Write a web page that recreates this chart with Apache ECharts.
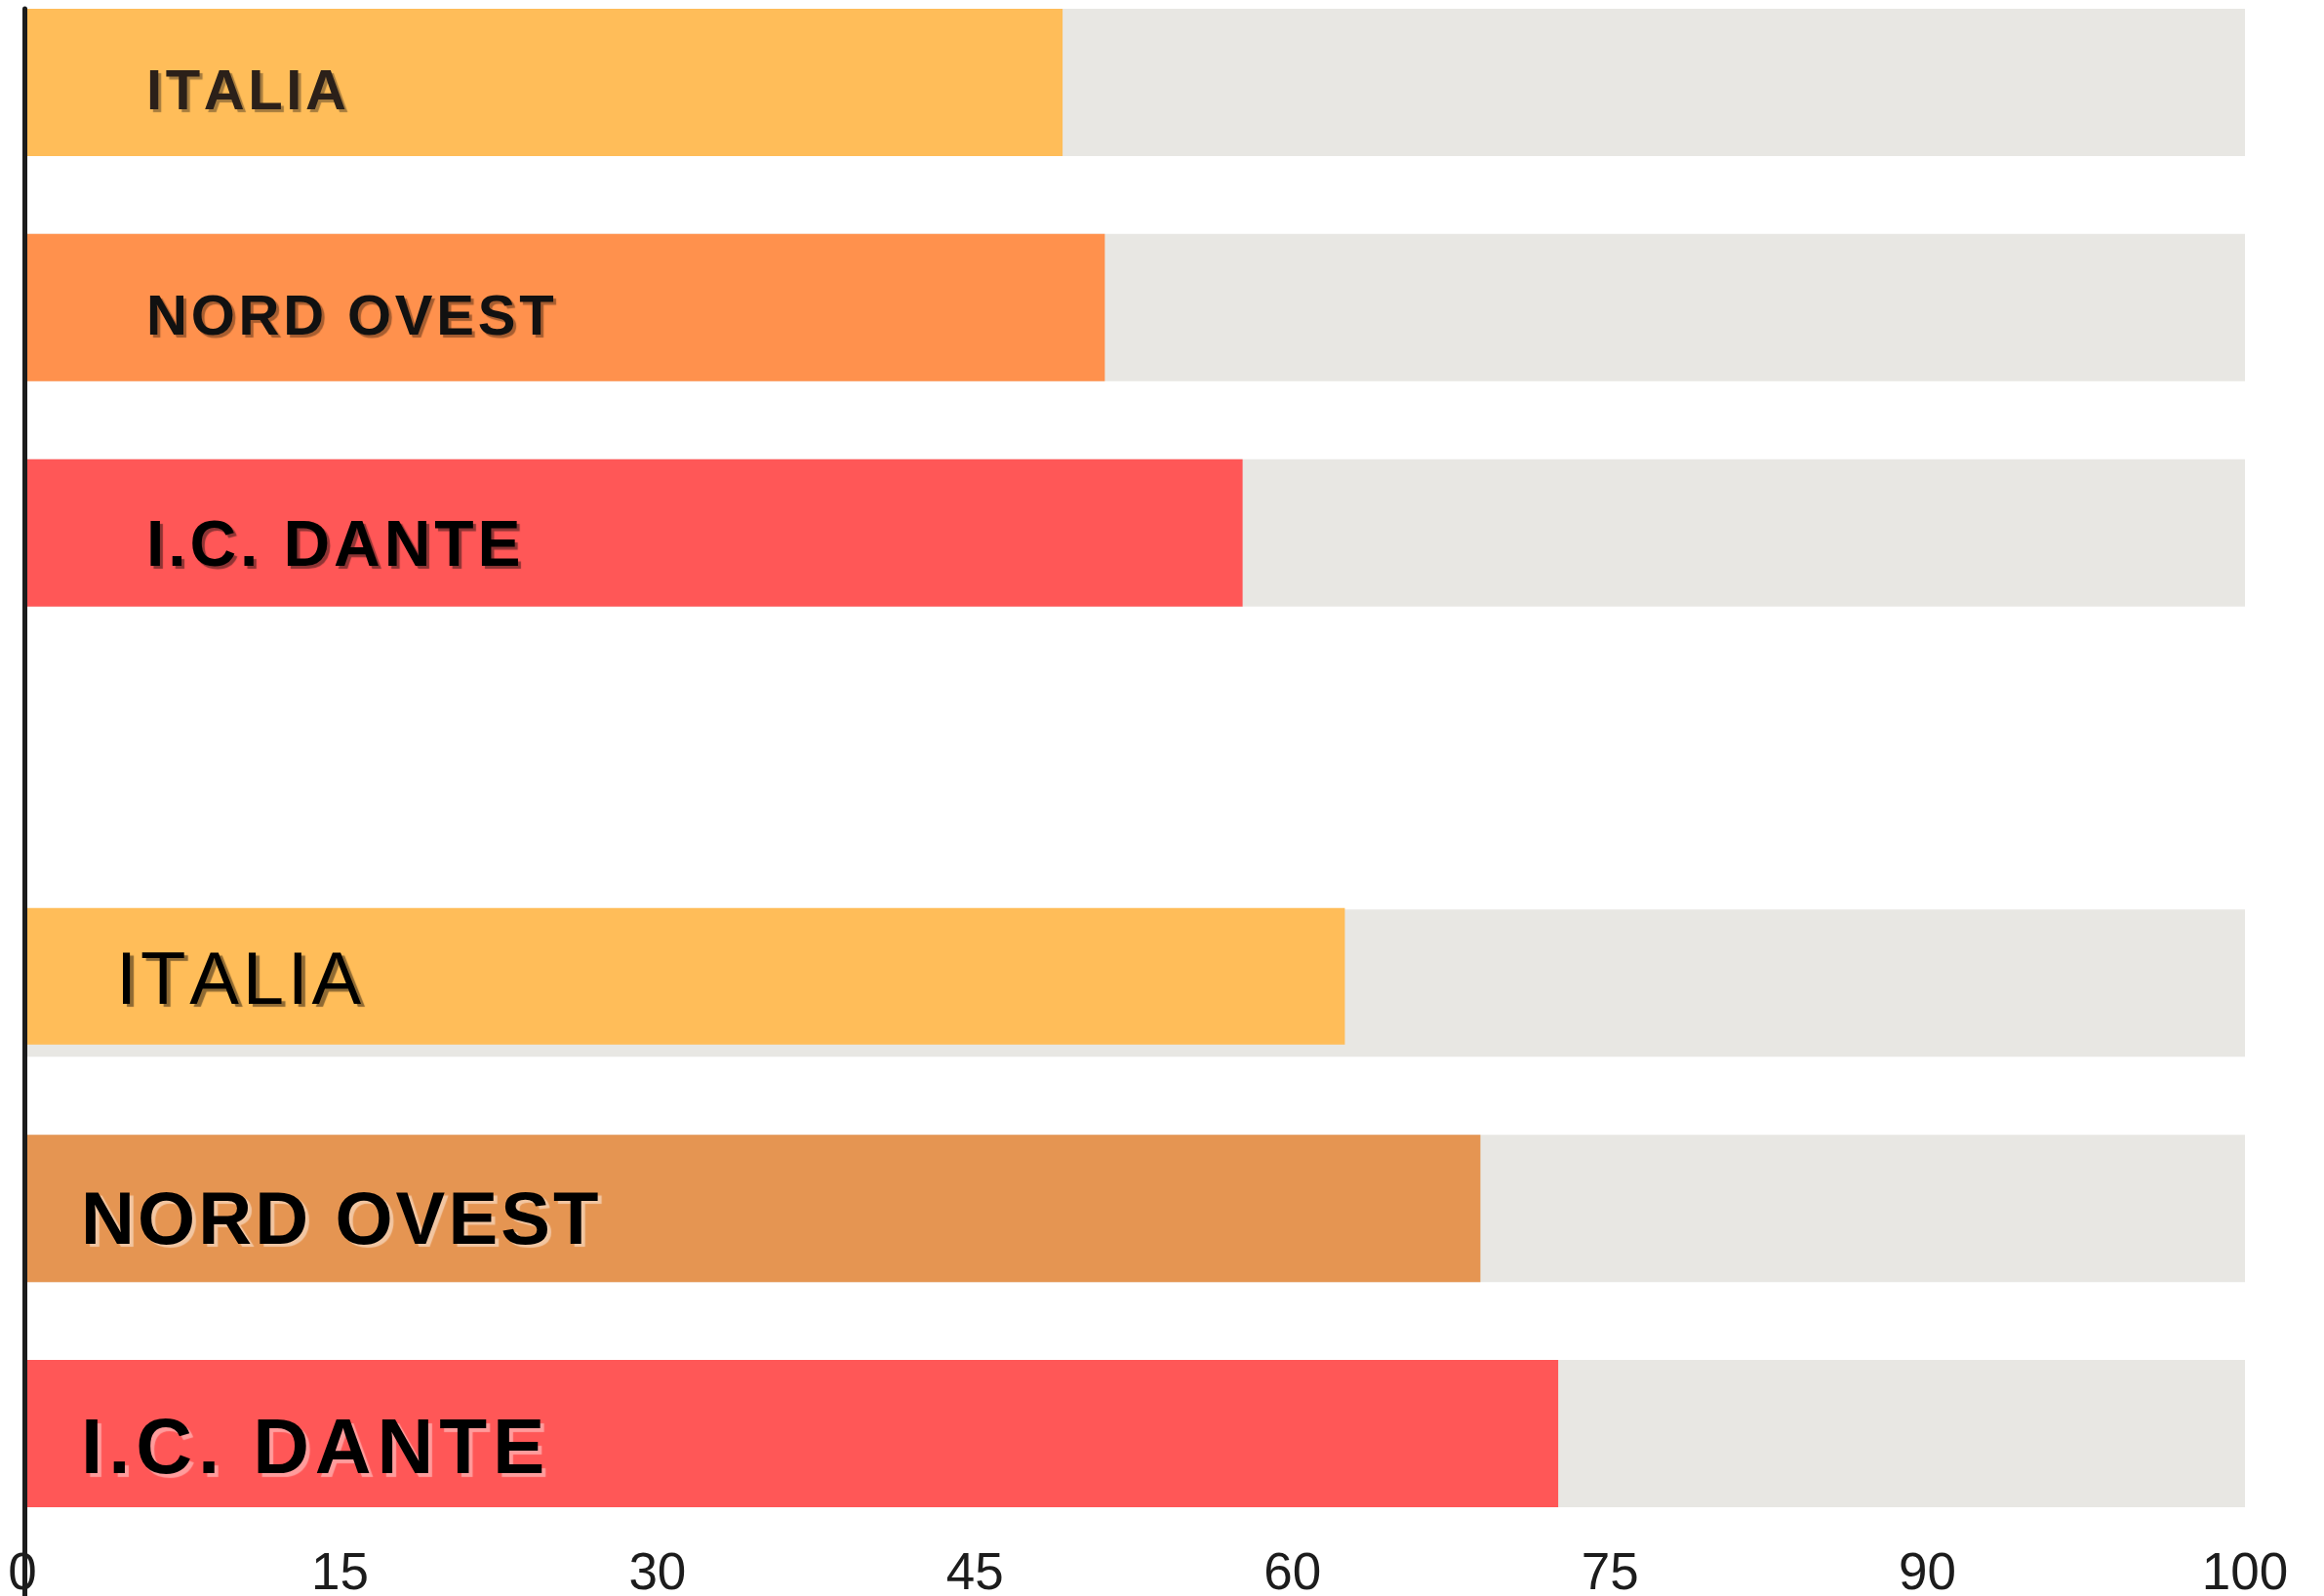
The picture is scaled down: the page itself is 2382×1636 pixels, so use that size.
<!DOCTYPE html>
<html>
<head>
<meta charset="utf-8">
<script src="https://cdn.jsdelivr.net/npm/echarts@6/dist/echarts.min.js"></script>
<style>
  html, body { margin: 0; padding: 0; background: #ffffff; }
  #chart { width: 2382px; height: 1636px; }
</style>
</head>
<body>
<div id="chart"></div>
<script>
// slots from top to bottom, the empty slot separates the two groups
var categories = ['ITALIA', 'NORD OVEST', 'I.C. DANTE', '', 'ITALIA', 'NORD OVEST', 'I.C. DANTE'];
var values = [46.8, 48.7, 54.9, null, 59.5, 65.6, 69.1];
var trackValues = [100, 100, 100, null, 100, 100, 100];
// tick labels sit at equal steps along the axis
var xTicks = ['0', '15', '30', '45', '60', '75', '90', '100'];
var shortBar = 4; // the lower ITALIA bar is drawn a bit thinner

var barColors = ['#ffbd59', '#ff914d', '#ff5757', null, '#ffbd59', '#e59552', '#ff5757'];
var labelStyles = [
  { size: 58, weight: 'bold', color: '#2b2019', shadow: '#a67c3e', ls: 3.6, dist: 127, dy: 12, sx: 3, sy: 3 },
  { size: 58, weight: 'bold', color: '#111111', shadow: '#a65d30', ls: 3.8, dist: 127, dy: 12, sx: 3, sy: 3 },
  { size: 66, weight: 'bold', color: '#000000', shadow: '#8e3434', ls: 3.9, dist: 127, dy: 16, sx: 3, sy: 3 },
  null,
  { size: 76, weight: 'normal', color: '#000000', shadow: '#8f6a33', ls: 3.8, dist: 96, dy: 7, sx: 4, sy: 3 },
  { size: 76, weight: 'bold', color: '#000000', shadow: '#f2c6a2', ls: 3.1, dist: 60, dy: 15, sx: 4, sy: 3 },
  { size: 80, weight: 'bold', color: '#000000', shadow: '#ff9c9c', ls: 5.9, dist: 60, dy: 18, sx: 4, sy: 4 }
];

var slotIds = categories.map(function (c, i) { return String(i); });

// one rich token per character, so the letters can be spread out
function spaced(text) {
  return text.split('').map(function (ch) { return '{c|' + ch + '}'; }).join('');
}

function barItem(i) {
  var st = labelStyles[i];
  var font = {
    color: st.color,
    fontFamily: 'Liberation Sans',
    fontSize: st.size,
    fontWeight: st.weight,
    textShadowColor: st.shadow,
    textShadowOffsetX: st.sx,
    textShadowOffsetY: st.sy,
    textShadowBlur: 1
  };
  var token = Object.assign({ padding: [0, st.ls, 0, 0] }, font);
  return {
    value: values[i],
    itemStyle: { color: barColors[i] },
    label: Object.assign({
      show: true,
      position: 'insideLeft',
      distance: st.dist,
      offset: [0, st.dy],
      formatter: spaced(categories[i]),
      rich: { c: token }
    }, font)
  };
}

var mainData = values.map(function (v, i) {
  if (v == null || i === shortBar) return '-';
  return barItem(i);
});
var shortData = values.map(function (v, i) {
  return i === shortBar ? barItem(i) : '-';
});
var trackData = trackValues.map(function (v) { return v == null ? '-' : v; });

var chart = echarts.init(document.getElementById('chart'));

var option = {
  backgroundColor: '#ffffff',
  animation: false,
  grid: [
    { left: 23, right: 81, top: -31, bottom: 51, outerBoundsMode: 'none' },
    { left: 23, right: 81, top: -38, bottom: 58, outerBoundsMode: 'none' },
    { left: 25, right: 81, top: 9, bottom: 0, outerBoundsMode: 'none' }
  ],
  xAxis: [{
    gridIndex: 0,
    type: 'value',
    min: 0,
    max: 100,
    show: false
  }, {
    gridIndex: 1,
    type: 'value',
    min: 0,
    max: 100,
    show: false
  }, {
    gridIndex: 2,
    type: 'value',
    show: false
  }, {
    gridIndex: 0,
    type: 'category',
    position: 'bottom',
    boundaryGap: false,
    data: xTicks,
    axisLine: { show: false },
    axisTick: { show: false },
    splitLine: { show: false },
    axisLabel: {
      interval: 0,
      margin: 3,
      color: '#1c1c1c',
      fontFamily: 'Liberation Sans',
      fontSize: 53
    }
  }],
  yAxis: [{
    gridIndex: 0,
    type: 'category',
    inverse: true,
    data: slotIds,
    show: false
  }, {
    gridIndex: 1,
    type: 'category',
    inverse: true,
    data: slotIds,
    show: false
  }, {
    gridIndex: 2,
    type: 'value',
    min: 0,
    max: 1,
    z: 10,
    axisLine: { show: true, lineStyle: { color: '#1c1c1c', width: 5 } },
    axisTick: { show: false },
    axisLabel: { show: false },
    splitLine: { show: false }
  }],
  series: [{
    name: 'track',
    type: 'bar',
    xAxisIndex: 0,
    yAxisIndex: 0,
    barWidth: 151,
    barGap: '-100%',
    silent: true,
    z: 1,
    itemStyle: { color: '#e8e7e3' },
    data: trackData
  }, {
    name: 'valore',
    type: 'bar',
    xAxisIndex: 0,
    yAxisIndex: 0,
    barWidth: 151,
    barGap: '-100%',
    z: 2,
    data: mainData
  }, {
    name: 'valore2',
    type: 'bar',
    xAxisIndex: 1,
    yAxisIndex: 1,
    barWidth: 140,
    z: 3,
    data: shortData
  }]
};

chart.setOption(option);
</script>
</body>
</html>
